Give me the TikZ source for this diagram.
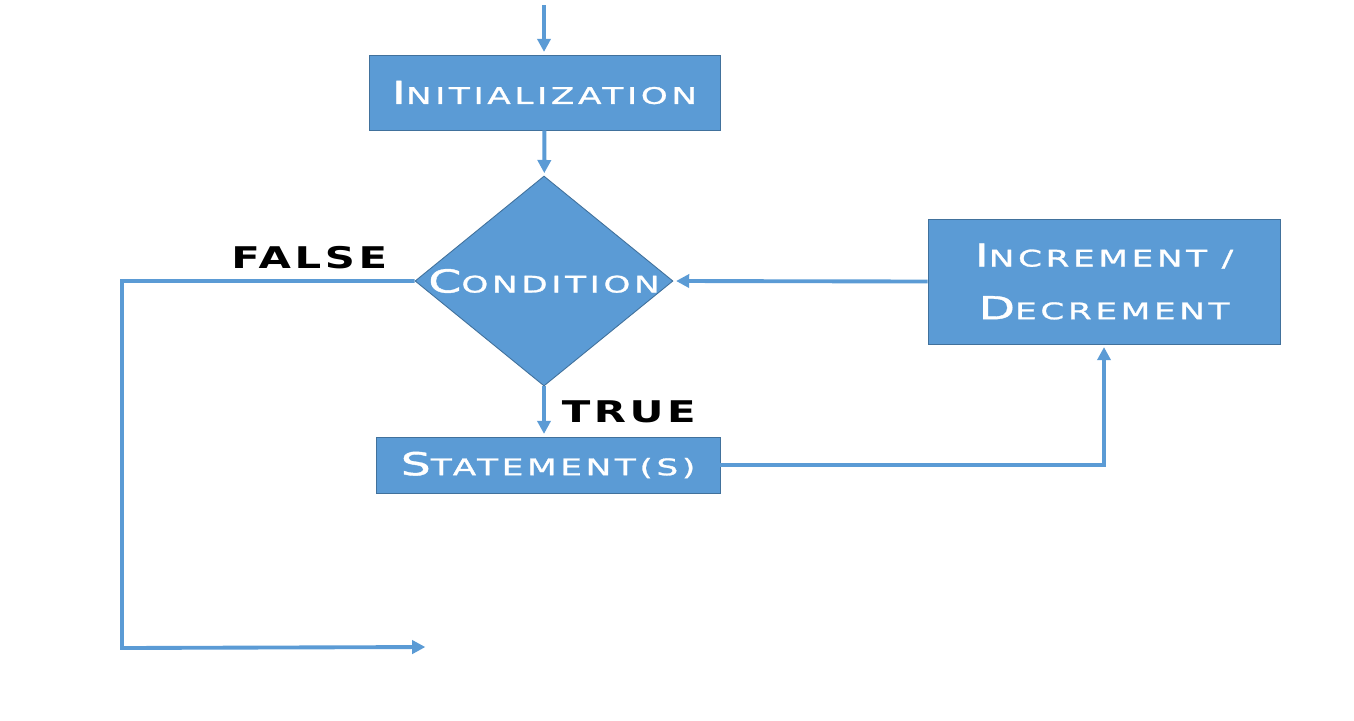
\documentclass[tikz,border=0pt]{standalone}
\usepackage{fontspec}
\usetikzlibrary{shapes.geometric}
\usetikzlibrary{arrows.meta}
\newfontfamily\boxfont[FakeStretch=1.5,LetterSpace=16,FakeBold=1.2]{DejaVu Sans}
\newfontfamily\labelfont[FakeStretch=1.4,LetterSpace=12]{DejaVu Sans}
\definecolor{officeblue}{HTML}{5B9BD5}
\definecolor{officeedge}{HTML}{41719C}
\newcommand\capletter[1]{{\fontsize{18}{20}\selectfont #1}}
\tikzstyle{process}=[draw=officeedge, fill=officeblue, line width=0.5pt, text=white, align=center, inner sep=0, font=\boxfont\fontsize{13}{30}\selectfont]
\tikzstyle{decision}=[diamond, draw=officeedge, fill=officeblue, line width=0.5pt, inner sep=0, minimum width=5.16cm, minimum height=4.2cm]
\tikzstyle{caption}=[text=white, inner sep=0, font=\boxfont\fontsize{13}{30}\selectfont]
\tikzstyle{branch label}=[inner sep=0, font=\labelfont\bfseries\fontsize{17}{20}\selectfont]
\tikzstyle{flow}=[draw=officeblue, line width=2.2pt, shorten >=1.5pt, -{Triangle[length=7.5pt, width=7.5pt]}]

\begin{document}
\begin{tikzpicture}[x=0.02cm, y=-0.02cm]
      \useasboundingbox (0,0) rectangle (1354,720);

      \node[process, minimum width=7.02cm, minimum height=1.5cm] (init) at (544.5, 92.5) {\capletter{I}NITIALIZATION};
      \node[decision] (cond) at (544, 281) {};
      \node[caption] at (cond) {\capletter{C}ONDITION};
      \node[process, minimum width=6.88cm, minimum height=1.12cm] (stmt) at (548, 465) {\capletter{S}TATEMENT(S)};
      \node[process, minimum width=7.04cm, minimum height=2.5cm] (inc) at (1104, 281.5) {\capletter{I}NCREMENT /\\\capletter{D}ECREMENT};

      \coordinate (start) at (544, 5);
      \coordinate (false_bend) at (122, 648);
      \coordinate (exit) at (428, 647);

      \draw[flow] (start) to (start |- init.north);
      \draw[flow] (init) to (cond);
      \draw[flow] (cond.west)
        to node[branch label, above=6pt, pos=0.36] {FALSE} (cond.west -| false_bend)
        to (false_bend)
        to (exit);
      \draw[flow] (cond.south) to node[branch label, right=9pt] {TRUE} (cond.south |- stmt.north);
      \draw[flow] (stmt.east) -| (inc.south);
      \draw[flow] (inc.west) to (cond.east);
    \end{tikzpicture}
\end{document}
